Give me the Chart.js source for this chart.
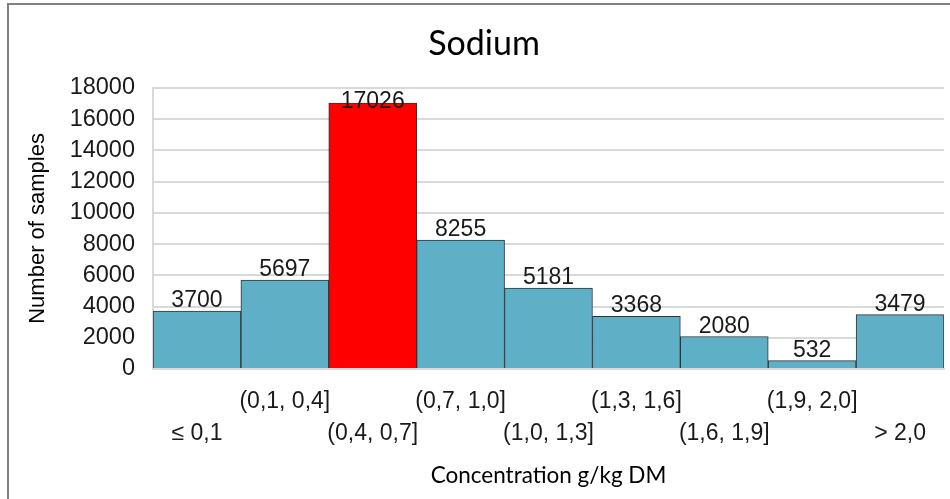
<!DOCTYPE html>
<html>
<head>
<meta charset="utf-8">
<script src="https://cdn.jsdelivr.net/npm/chart.js@4/dist/chart.umd.min.js"></script>
<style>
html,body{margin:0;padding:0;background:#fff;}
#wrap{width:950px;height:499px;position:relative;}
</style>
</head>
<body>
<div id="wrap"><canvas id="c" width="950" height="499"></canvas></div>
<script>
const categories = [
  ["", "≤ 0,1"],
  ["(0,1, 0,4]", ""],
  ["", "(0,4, 0,7]"],
  ["(0,7, 1,0]", ""],
  ["", "(1,0, 1,3]"],
  ["(1,3, 1,6]", ""],
  ["", "(1,6, 1,9]"],
  ["(1,9, 2,0]", ""],
  ["", "> 2,0"]
];
const sampleCounts = [3700, 5697, 17026, 8255, 5181, 3368, 2080, 532, 3479];
const highlightIndex = [2];
const yTicksMax = 18000;
const yTicksStep = 2000;

const teal = '#5FAFC7';
const red = '#FF0000';
const barColors = sampleCounts.map((v, i) => highlightIndex.includes(i) ? red : teal);

const framePlugin = {
  id: 'frame',
  beforeDraw(chart) {
    const ctx = chart.ctx;
    ctx.save();
    ctx.fillStyle = '#ffffff';
    ctx.fillRect(0, 0, chart.width, chart.height);
    ctx.strokeStyle = '#808080';
    ctx.lineWidth = 2;
    ctx.beginPath();
    ctx.moveTo(8, chart.height);
    ctx.lineTo(8, 4);
    ctx.lineTo(chart.width, 4);
    ctx.stroke();
    ctx.restore();
  }
};

const valueLabels = {
  id: 'valueLabels',
  afterDatasetsDraw(chart) {
    const ctx = chart.ctx;
    const meta = chart.getDatasetMeta(0);
    const ds = chart.data.datasets[0];
    ctx.save();
    ctx.font = '23px "Liberation Sans", Arial, sans-serif';
    ctx.fillStyle = '#1a1a1a';
    ctx.textAlign = 'center';
    ctx.textBaseline = 'alphabetic';
    meta.data.forEach((bar, i) => {
      let y = bar.y - 4;
      y = Math.max(y, chart.chartArea.top + 20);
      ctx.fillText(String(ds.data[i]), bar.x, y);
    });
    ctx.restore();
  }
};

new Chart(document.getElementById('c'), {
  type: 'bar',
  data: {
    labels: categories,
    datasets: [{
      data: sampleCounts,
      backgroundColor: barColors,
      borderColor: '#333333',
      borderWidth: 1,
      categoryPercentage: 1.0,
      barPercentage: 1.0
    }]
  },
  options: {
    responsive: false,
    animation: false,
    devicePixelRatio: 1,
    layout: { padding: { left: 24, right: 6, top: 0, bottom: 0 } },
    plugins: {
      legend: { display: false },
      tooltip: { enabled: false },
      title: {
        display: true,
        text: 'Sodium',
        color: '#000',
        font: { family: 'Lato, "Open Sans", sans-serif', size: 34, weight: 'normal', lineHeight: 1.2 },
        padding: { top: 24, bottom: 23 }
      }
    },
    scales: {
      x: {
        grid: { display: false, drawTicks: false },
        border: { display: true, color: '#d9d9d9', width: 2 },
        ticks: {
          color: '#1a1a1a',
          font: { family: '"Liberation Sans", Arial, sans-serif', size: 23, lineHeight: 1.39 },
          padding: 17,
          autoSkip: false,
          maxRotation: 0,
          minRotation: 0
        },
        title: {
          display: true,
          text: 'Concentration g/kg DM',
          color: '#000',
          font: { family: 'Lato, "Open Sans", sans-serif', size: 22.5, lineHeight: 1.2 },
          padding: { top: 0, bottom: 10 }
        },
        afterFit(scale) { scale.height = 130; }
      },
      y: {
        min: 0,
        max: yTicksMax,
        grid: { color: '#d9d9d9', lineWidth: 2, drawTicks: false },
        border: { display: true, color: '#d9d9d9', width: 2 },
        ticks: {
          stepSize: yTicksStep,
          color: '#1a1a1a',
          font: { family: '"Liberation Sans", Arial, sans-serif', size: 23.5 },
          padding: 18,
          callback: (v) => String(v)
        },
        title: {
          display: true,
          text: 'Number of samples',
          color: '#000',
          font: { family: '"Liberation Sans", Arial, sans-serif', size: 22, lineHeight: 1.2 },
          padding: { top: 1, bottom: 0 }
        },
        afterFit(scale) { scale.width = 129; }
      }
    }
  },
  plugins: [framePlugin, valueLabels]
});
</script>
</body>
</html>
